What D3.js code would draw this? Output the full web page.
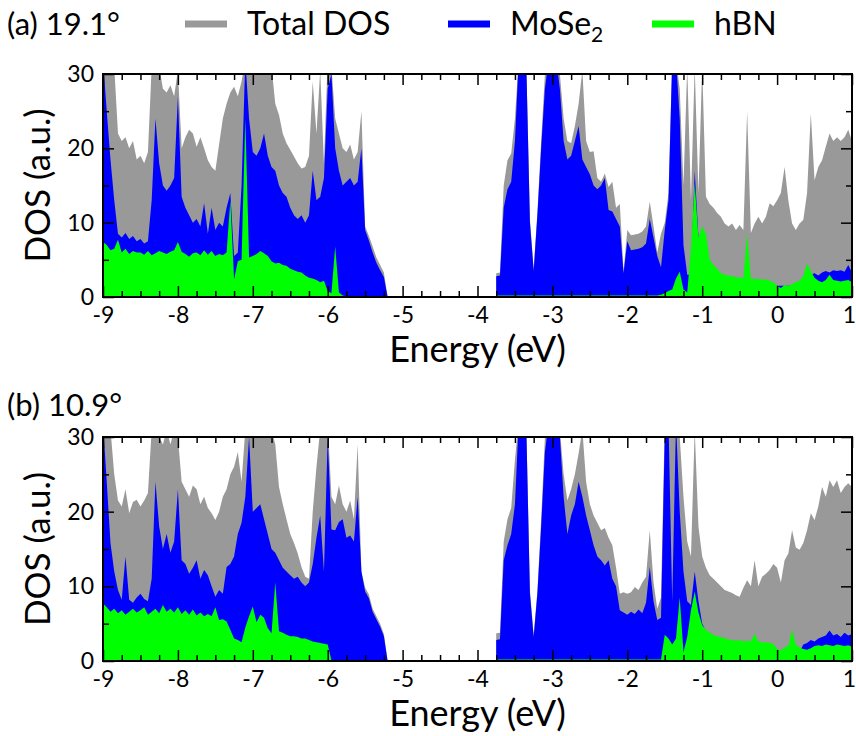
<!DOCTYPE html>
<html>
<head>
<meta charset="utf-8">
<script src="https://cdn.jsdelivr.net/npm/d3@7"></script>
<style>
  body { margin: 0; background: #fff; }
  svg text { font-family: Lato, "Open Sans", "DejaVu Sans", sans-serif; fill: #000; }
</style>
</head>
<body>
<svg id="chart" width="856" height="736"></svg>
<script>
// energy grids (eV) of the two occupied windows
const energyLow = [-9,-8.95,-8.9,-8.85,-8.8,-8.75,-8.7,-8.65,-8.6,-8.55,-8.5,-8.45,-8.4,-8.35,-8.3,-8.25,-8.2,-8.15,-8.1,-8.05,
  -8,-7.95,-7.9,-7.85,-7.8,-7.75,-7.7,-7.65,-7.6,-7.55,-7.5,-7.45,-7.4,-7.35,-7.3,-7.25,-7.2,-7.15,-7.1,-7.05,
  -7,-6.95,-6.9,-6.85,-6.8,-6.75,-6.7,-6.65,-6.6,-6.55,-6.5,-6.45,-6.4,-6.35,-6.3,-6.25,-6.2,-6.15,-6.1,-6.05,
  -6,-5.95,-5.9,-5.85,-5.8,-5.75,-5.7,-5.65,-5.6,-5.55,-5.5,-5.45,-5.4,-5.35,-5.3,-5.25,-5.2];
const energyHigh = [-3.75,-3.7,-3.65,-3.6,-3.55,-3.5,-3.45,-3.4,-3.35,-3.3,-3.25,-3.2,-3.15,-3.1,-3.05,-3,-2.95,-2.9,-2.85,-2.8,
  -2.75,-2.7,-2.65,-2.6,-2.55,-2.5,-2.45,-2.4,-2.35,-2.3,-2.25,-2.2,-2.15,-2.1,-2.05,-2,-1.95,-1.9,-1.85,-1.8,
  -1.75,-1.7,-1.65,-1.6,-1.55,-1.5,-1.45,-1.4,-1.35,-1.3,-1.25,-1.2,-1.15,-1.1,-1.05,-1,-0.95,-0.9,-0.85,-0.8,
  -0.75,-0.7,-0.65,-0.6,-0.55,-0.5,-0.45,-0.4,-0.35,-0.3,-0.25,-0.2,-0.15,-0.1,-0.05,0,0.05,0.1,0.15,0.2,
  0.25,0.3,0.35,0.4,0.45,0.5,0.55,0.6,0.65,0.7,0.75,0.8,0.85,0.9,0.95,1];

// (a) 19.1 deg
const totalA_low = [32,32,32,31,22,21,21.5,20,21,18.5,19,18,19.5,31,32,31,28,27.5,28.5,27,
  30.5,20,21.5,22.5,22,20.2,21.5,20,18.4,17.5,17,20.5,24,26,27.5,28.3,27,29,32,32,
  32,32,32,32,32,31,26,24.5,22,20.7,19.8,18.9,18,17.3,17.5,19,29,22,30.5,18,
  32,31,24,22,20,19.5,20.5,18.5,19.5,25,9.5,8.2,6.8,5.3,4.3,3.3,0];
const mose2A_low = [32,25,18.5,13,8.5,8,8.6,7.8,8.2,7.5,7.8,7.2,7.5,13,24,18,15,14.3,15,16,
  27,13.5,12,11,10,10.5,9.5,12.6,8.5,12,9,10,9.5,12,14,5.5,6,15,32,24,
  19.5,19,20,22,19,17.5,17,15,14,13.5,12,11,10.5,11,10,11,17,13,13.5,16,
  28,30,20,17,15,15.5,16,15,15.5,20,9,7.6,6,4.6,3.6,2.7,0];
const hbnA_low = [7.4,7,6.3,6.5,7.7,6,6.5,5.8,6.2,6,6,5.7,6.2,5.6,5.9,6.2,6,5.8,6.1,6.3,
  7.4,6.1,5.8,5.4,5.9,6,5.6,6.3,5.7,6.2,5.5,5.8,5.6,6,13,2.4,4.8,5,24,5.3,
  5.5,5.8,6.2,5.9,5.5,4.8,4.5,4.6,4.3,4.2,3.8,3.6,3.4,3.3,2.9,2.6,2.5,2.3,2,2.2,
  0.8,0.5,6.8,0.6,0.2,0.1,0.1,0.1,0.1,0.1,0.1,0.1,0.1,0.1,0.1,0.1,0];
const totalA_high = [3.2,3.3,15,18.4,19.3,24,32,32,32,10.5,
  3.8,11.5,21,30,32,32,32,30,24,21,
  20.7,23,26,30.5,21,19.5,19.6,16,15.5,16.6,
  14.8,15.5,12,12.5,3.5,9,8.3,8.4,8.5,8.8,
  9.5,12.8,9.5,6,8.5,10,14,32,32,28,
  15,31,13,31,14,31,13.5,12.5,12,11.3,
  10.8,9.9,9.5,9.9,9,9.7,9,25,8.6,9.9,
  10.8,9.9,10.8,12.6,12.2,13,14,17.5,13,9.9,
  9,9.9,10.4,14,24.7,15.7,17.5,18.4,20.2,22,
  21,21.5,21,21.5,22.5,21];
const mose2A_high = [2.8,2.9,12,14.5,15.5,21,32,32,32,10,
  3.5,11,20,28,32,32,32,28,21,18.5,
  19,21,23,18.5,17.5,16.5,15,14.5,15,16,
  11.7,11.5,10.5,9.5,3.2,7.5,6.3,6.4,6.5,6.7,
  7.2,10.5,8,5.5,4,9,13,32,32,24,
  7,3,3,17,8,9,7,4,3,2,
  1.5,1.5,1.5,1.5,1.5,1.5,1.5,1.5,1.5,1.5,
  1.5,1.5,1.5,1.5,1.5,1.5,1.5,1.5,1.5,1.5,
  1.5,1.8,2.5,2.8,3,3.2,2.9,3.3,3.5,3.3,
  3.6,3.5,3.6,3.4,4.3,3.3];
const hbnA_high = [0.2,0.2,0.2,0.2,0.2,0.2,0.2,0.2,0.2,0.2,
  0.2,0.2,0.2,0.2,0.2,0.2,0.2,0.2,0.2,0.2,
  0.2,0.2,0.2,0.2,0.2,0.2,0.2,0.2,0.2,0.2,
  0.2,0.2,0.2,0.2,0.2,0.2,0.2,0.2,0.2,0.2,
  0.2,0.2,0.2,0.2,0.3,0.5,0.8,1,2.5,3.4,
  1,0.6,6.5,15.3,8,9.5,8.5,5,4.3,3.8,
  3.2,3,2.9,2.8,2.7,2.6,2.6,8.5,2.5,2.4,
  2.5,2.3,2.4,2.2,2,1.5,1.2,1.6,1.5,1.7,
  2,2.2,2.8,4.5,3.5,2.6,2.2,2,2.3,3,
  2.3,2.2,2.1,2.2,2.3,2];

// (b) 10.9 deg
const totalB_low = [32,32,31,25,21.5,20.7,23,19.8,21.3,21.6,20.7,21.5,22.5,31,32,30,29,31,29,31,
  30,24,23,22,23.5,23,21,22,20.5,19.8,18.9,20,22,23,25,26,28,24,31,32,
  32,31,32,32,31,31,29,23.3,21,19,17,15.8,14.4,12.6,11.3,11,20,26,31,31,
  32,22,21,23.5,21,20,21.5,19,29,12,9.8,8.9,7,6,5,3.6,0];
const mose2B_low = [32,24,15.8,12,9.5,8.2,14,8.2,7.8,8.5,9,8.3,8,11,24,18,15,17,14.5,16,
  23,13.5,13,11.7,12.5,13.5,11,12.2,11.5,10,8.6,9.5,9,12.6,13,14,17,18.5,22,30,
  20,20.5,21,19,17,15,14.5,13.5,12.5,12,11.5,11,11.3,10.5,10,10.5,13,16.5,19.5,12,
  30,17.6,17.5,18.6,19,16.5,16.8,16,22,12,9.3,8.4,6.6,5.6,4.6,3.3,0];
const hbnB_low = [7.7,7.2,6.6,7,6.4,6.8,6.2,6.6,7,6.5,6.8,7.2,6.2,6.6,7,6.4,7.5,6.6,7,6.5,
  7.2,6.3,6.8,6.2,6.9,6.1,6.5,6,6.3,6,7.2,5.5,5.6,5.3,4.2,3,2.8,2.5,4.5,6,
  7.3,5.2,6.2,5.8,4.4,3.7,10.5,4,3.8,3.5,3.3,3.3,3.2,3,3,2.8,2.6,2.5,2.4,2.3,
  2.2,0.1,0.1,0.1,0.1,0.1,0.1,0.1,0.1,0.1,0.1,0.1,0.1,0.1,0.1,0.1,0];
const totalB_high = [3.7,3.8,16,19,20.5,27,32,32,32,9.5,
  3.5,9.5,19,30,32,32,32,31,25,21.5,
  23,25,27.8,31,24,21,19.5,18.5,17.5,17.8,
  16.5,15.5,12.5,9,9.2,9,9.2,9.9,9.5,10.5,
  11.3,17.5,10.5,7,8.5,32,32,32,32,30,
  22,16,14,31,18,14,12.5,11.5,11,10.5,
  10,9.5,9.3,9.1,8.8,8.6,9.8,10.8,10,13.5,
  10,11.3,11.7,12.2,13,12.5,10.5,13.5,14.4,17.5,
  15.2,14.9,15.8,17.5,19.8,18.9,20.7,23.3,22,24.2,
  23.3,24.2,22.5,23.3,23.8,23.3];
const mose2B_high = [2.8,2.9,13.5,15.5,17,21,32,32,32,9,
  3.2,9,18,28,32,32,32,30,22,17,
  19.5,21,24,22,19.5,17.5,15.5,14,13.5,12.8,
  13.5,11,10,6.8,6.5,6.2,6.6,6.3,6.9,6.4,
  7.8,12.6,8,5.5,5.8,30,32,8,32,20,
  12,8,7.5,12,8,5,4,2.5,2,1.5,
  1.2,1.2,1.2,1.2,1.2,1.2,1.2,1.2,1.2,1.2,
  1.2,1.2,1.2,1.2,1.2,1.2,1.2,1.2,1.2,1.2,
  1.2,1.2,2.2,2.4,2.8,2.6,3,3.2,3.4,4.1,
  3.4,3.6,3.2,3.8,3.4,3.6];
const hbnB_high = [0.2,0.2,0.2,0.2,0.2,0.2,0.2,0.2,0.2,0.2,
  0.2,0.2,0.2,0.2,0.2,0.2,0.2,0.2,0.2,0.2,
  0.2,0.2,0.2,0.2,0.2,0.2,0.2,0.2,0.2,0.2,
  0.2,0.2,0.2,0.2,0.2,0.2,0.2,0.2,0.2,0.2,
  0.2,0.2,0.2,0.2,0.2,3.5,3,2.2,3,8.5,
  1.2,3.2,6.8,9.3,6.5,4.8,4.2,3.8,3.5,3.3,
  3.2,3,2.9,2.8,2.7,2.8,2.6,2.7,2.6,3.6,
  2.6,2.5,2.5,2.4,2.3,1.6,1.4,1.8,2,4.2,
  2.2,1.8,1.6,1.5,1.7,2,2.1,2,2.2,2.1,
  2,2.2,2.1,2,2.1,1.9];

const xTicks = [-9, -8, -7, -6, -5, -4, -3, -2, -1, 0, 1];
const yTicks = [0, 10, 20, 30];
const seriesNames = ['Total DOS', 'MoSe2', 'hBN'];
const seriesColors = ['#999999', '#0000ff', '#00ff00'];

const svg = d3.select('#chart');
const x = d3.scaleLinear().domain([-9, 1]).range([103, 852]);
const xMinor = d3.range(-9, 1.001, 0.25).filter(v => Math.abs(v - Math.round(v)) > 1e-6);
const yMinor = [5, 15, 25];

function styleAxis(g, size) {
    g.select('.domain').remove();
    g.selectAll('.tick line').attr('stroke', '#000').attr('stroke-width', 1.5);
    g.selectAll('.tick text').style('font-size', size + 'px').attr('fill', '#000');
}

function drawPanel(key, top, bottom, layers, label, labelY) {
    const y = d3.scaleLinear().domain([0, 30]).range([bottom, top]);
    const clipId = 'clip-' + key;
    svg.append('clipPath').attr('id', clipId)
        .append('rect')
        .attr('x', x(-9)).attr('y', top)
        .attr('width', x(1) - x(-9)).attr('height', bottom - top);

    const plot = svg.append('g').attr('clip-path', `url(#${clipId})`);

    // gray, then blue, then green on top
    layers.forEach((layer, k) => {
        [[energyLow, layer[0]], [energyHigh, layer[1]]].forEach(([es, vs]) => {
            const area = d3.area()
                .x((d, i) => x(es[i]))
                .y0(y(0))
                .y1(d => y(d));
            plot.append('path')
                .datum(vs)
                .attr('d', area)
                .attr('fill', seriesColors[k]);
        });
    });

    // ticks on all four sides, pointing inwards
    const bottomAxis = svg.append('g').attr('transform', `translate(0,${bottom})`)
        .call(d3.axisBottom(x).tickValues(xTicks).tickSize(-11).tickPadding(10).tickFormat(d => String(d)));
    styleAxis(bottomAxis, 23);
    // the last label sits on the page edge
    bottomAxis.selectAll('.tick text').filter(d => d === 1).attr('dx', -3);
    styleAxis(svg.append('g').attr('transform', `translate(0,${bottom})`)
        .call(d3.axisBottom(x).tickValues(xMinor).tickSize(-6).tickFormat('')), 23);
    styleAxis(svg.append('g').attr('transform', `translate(0,${top})`)
        .call(d3.axisTop(x).tickValues(xTicks).tickSize(-11).tickFormat('')), 23);
    styleAxis(svg.append('g').attr('transform', `translate(0,${top})`)
        .call(d3.axisTop(x).tickValues(xMinor).tickSize(-6).tickFormat('')), 23);

    const leftAxis = svg.append('g').attr('transform', `translate(${x(-9)},0)`)
        .call(d3.axisLeft(y).tickValues(yTicks).tickSize(-11).tickPadding(9).tickFormat(d => String(d)));
    styleAxis(leftAxis, 23);
    styleAxis(svg.append('g').attr('transform', `translate(${x(-9)},0)`)
        .call(d3.axisLeft(y).tickValues(yMinor).tickSize(-6).tickFormat('')), 23);
    styleAxis(svg.append('g').attr('transform', `translate(${x(1)},0)`)
        .call(d3.axisRight(y).tickValues(yTicks).tickSize(-11).tickFormat('')), 23);
    styleAxis(svg.append('g').attr('transform', `translate(${x(1)},0)`)
        .call(d3.axisRight(y).tickValues(yMinor).tickSize(-6).tickFormat('')), 23);

    svg.append('rect')
        .attr('x', x(-9)).attr('y', top)
        .attr('width', x(1) - x(-9)).attr('height', bottom - top)
        .attr('fill', 'none').attr('stroke', '#000').attr('stroke-width', 2);

    svg.append('text')
        .attr('x', (x(-9) + x(1)) / 2).attr('y', bottom + 65)
        .attr('text-anchor', 'middle')
        .style('font-size', '36px')
        .text('Energy (eV)');

    svg.append('text')
        .attr('transform', `translate(50,${(top + bottom) / 2}) rotate(-90)`)
        .attr('text-anchor', 'middle')
        .style('font-size', '35px')
        .text('DOS (a.u.)');

    svg.append('text')
        .attr('x', 7).attr('y', labelY)
        .style('font-size', '31px')
        .text(label);
}

drawPanel('a', 74, 297, [[totalA_low, totalA_high], [mose2A_low, mose2A_high], [hbnA_low, hbnA_high]], '(a) 19.1°', 35);
drawPanel('b', 437, 661, [[totalB_low, totalB_high], [mose2B_low, mose2B_high], [hbnB_low, hbnB_high]], '(b) 10.9°', 416);

// legend
const legendX = [185, 448, 652];
seriesNames.forEach((name, k) => {
    svg.append('line')
        .attr('x1', legendX[k]).attr('x2', legendX[k] + 42)
        .attr('y1', 24).attr('y2', 24)
        .attr('stroke', seriesColors[k]).attr('stroke-width', 7);
    const t = svg.append('text')
        .attr('x', legendX[k] + 62).attr('y', 35)
        .style('font-size', '32px');
    if (name === 'MoSe2') {
        t.append('tspan').text('MoSe');
        t.append('tspan').attr('dy', 7).style('font-size', '21px').text('2');
    } else {
        t.text(name);
    }
});
</script>
</body>
</html>
